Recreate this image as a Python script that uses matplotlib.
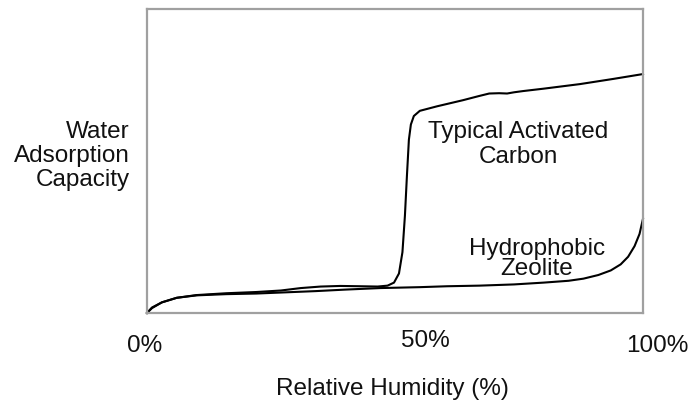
import matplotlib
matplotlib.use("Agg")
import matplotlib.pyplot as plt

plt.rcParams["font.family"] = ["Liberation Sans", "DejaVu Sans"]

# relative humidity (%) and normalised adsorption capacity
carbon_rh = [0, 1, 3, 6, 10, 16, 22, 27, 31, 35, 39, 43, 46.5, 48.5, 49.8,
             50.8, 51.5, 52.0, 52.4, 52.8, 53.2, 53.8, 55, 58.5, 63.7, 67,
             69, 71, 72.6, 74, 75.8, 80, 87.3, 94, 100]
carbon_cap = [0, 0.016, 0.035, 0.05, 0.059, 0.065, 0.069, 0.074, 0.082,
              0.087, 0.089, 0.088, 0.087, 0.09, 0.1, 0.13, 0.2, 0.32, 0.45,
              0.57, 0.62, 0.648, 0.665, 0.68, 0.70, 0.714, 0.722, 0.723,
              0.722, 0.726, 0.73, 0.738, 0.753, 0.77, 0.786]

zeolite_rh = [0, 1, 3, 6, 10, 16, 22, 28, 34, 40, 47, 55, 60.5, 67, 74, 80,
              85, 88, 91, 93.5, 95.5, 97, 98.3, 99.3, 100]
zeolite_cap = [0, 0.018, 0.035, 0.05, 0.058, 0.062, 0.064, 0.068, 0.072,
               0.077, 0.082, 0.085, 0.088, 0.09, 0.094, 0.1, 0.106, 0.113,
               0.125, 0.14, 0.16, 0.185, 0.22, 0.26, 0.31]

tick_labels = ["0%", "50%", "100%"]
xlabel = "Relative Humidity (%)"
ylabel_lines = ["Water", "Adsorption", "Capacity"]
carbon_lines = ["Typical Activated", "Carbon"]
zeolite_lines = ["Hydrophobic", "Zeolite"]

W, H = 691, 402
fig = plt.figure(figsize=(W / 100, H / 100), dpi=100)
L, R, T, B = 147, 643, 10, 314
ax = fig.add_axes([L / W, 1 - B / H, (R - L) / W, (B - T) / H])

ax.plot(carbon_rh, carbon_cap, color="black", lw=1.5, clip_on=False)
ax.plot(zeolite_rh, zeolite_cap, color="black", lw=1.5, clip_on=False)

ax.set_xlim(0, 100)
ax.set_ylim(0, 1)
ax.set_xticks([])
ax.set_yticks([])
for s in ax.spines.values():
    s.set_color("#a0a0a0")
    s.set_linewidth(1.6)


def px(x, y):
    # pixel position in the image -> data coords
    return (x - L) / (R - L) * 100, (B - y) / (B - T)


fs = 17.5
col = "#111111"


def put(x, y, s, ha="center"):
    dx, dy = px(x, y)
    ax.text(dx, dy, s, ha=ha, va="baseline", fontsize=fs, color=col,
            clip_on=False)


for x, y, s in zip([145, 425, 657], [352, 347, 352], tick_labels):
    put(x, y, s)
put(392, 395, xlabel)

for y, s in zip([138, 162, 186], ylabel_lines):
    put(130, y, s, ha="right")
for y, s in zip([138, 163], carbon_lines):
    put(518, y, s)
for y, s in zip([255, 275], zeolite_lines):
    put(537, y, s)

fig.savefig("out.png", dpi=100)
